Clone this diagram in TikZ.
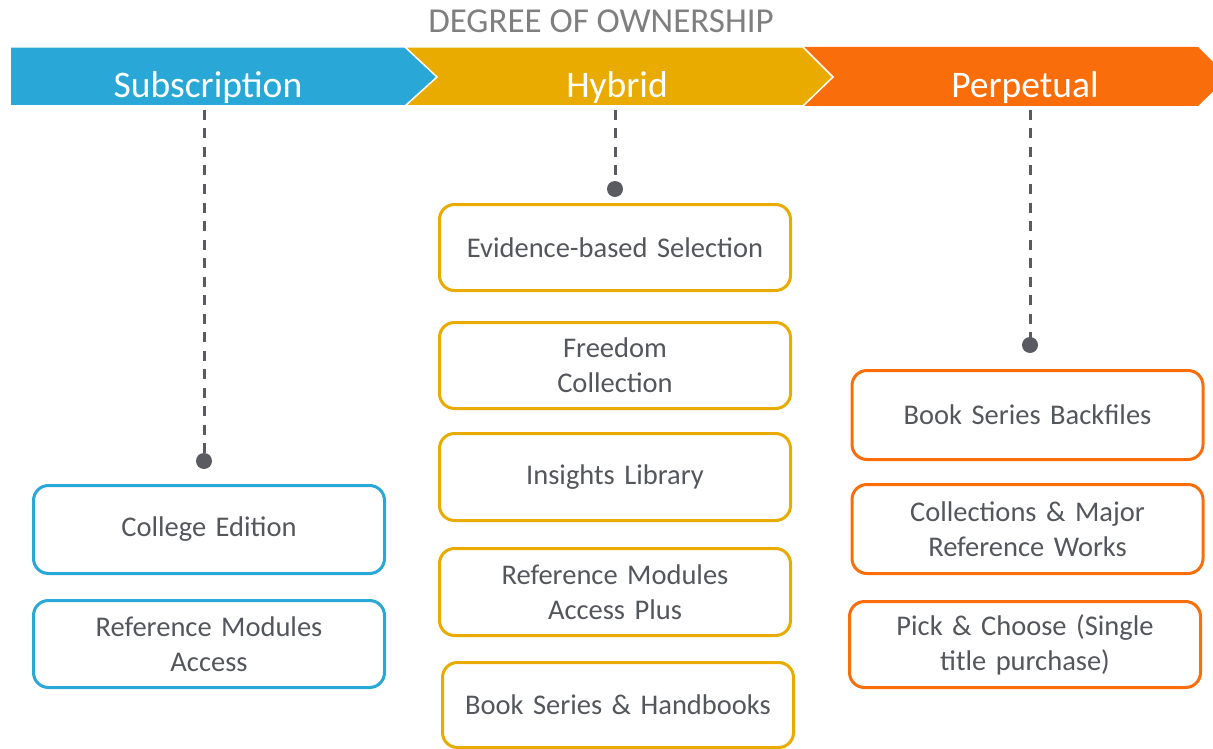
\documentclass[tikz,border=0pt]{standalone}
\usepackage{fontspec}
\setmainfont{Carlito}
\definecolor{cblue}{HTML}{29A8D8}
\definecolor{cyellow}{HTML}{E9AB00}
\definecolor{corange}{HTML}{F96E0A}
\definecolor{ctext}{HTML}{53565B}
\definecolor{ctitle}{HTML}{7F7F7F}
\definecolor{cdash}{HTML}{5A5B60}
\begin{document}
\begin{tikzpicture}[x=1pt,y=-1pt,
  chev/.style={draw=white,line width=1.5pt},
  bannertext/.style={text=white,font=\fontsize{37.5}{42}\selectfont,anchor=base,inner sep=0},
  item/.style={draw=#1,line width=3pt,rounded corners=15pt,minimum width=351pt,
    text width=340pt,align=center,text=ctext,font=\fontsize{28.5}{35}\selectfont,inner sep=0},
  dot/.style={circle,fill=cdash,minimum size=16pt,inner sep=0},
  conn/.style={draw=cdash,line width=3pt,dash pattern=on 10pt off 8.5pt}]
\useasboundingbox (0,0) rectangle (1213,749);
\clip (0,0) rectangle (1213,749);
% banner
\fill[corange] (803,47) -- (1198,47) -- (1228,77) -- (1198,106) -- (803,106) -- (833,77) -- cycle;
\fill[cyellow,chev] (405,47) -- (803,47) -- (833,77) -- (803,106) -- (405,106) -- (435,77) -- cycle;
\fill[cblue,chev] (10,47) -- (405,47) -- (437,77) -- (405,106) -- (10,106) -- cycle;
\node[text=ctitle,font=\fontsize{35}{40}\selectfont,anchor=base,inner sep=0] (title) at (601,33) {DEGREE OF OWNERSHIP};
\node[bannertext] (sub) at (208,98) {Subscription};
\node[bannertext] (hyb) at (617,98) {Hybrid};
\node[bannertext] (per) at (1025,98) {Perpetual};
% connectors
\coordinate (t1) at (204,110);
\coordinate (t2) at (615,110);
\coordinate (t3) at (1030,110);
\node[dot] (d1) at (204,461) {};
\node[dot] (d2) at (615,189) {};
\node[dot] (d3) at (1030,345) {};
\draw[conn] (t1) -- (d1.center);
\draw[conn] (t2) -- (d2.center);
\draw[conn] (t3) -- (d3.center);
% subscription boxes
\node[item=cblue,minimum height=88pt] (ce) at (209,529.5) {College Edition};
\node[item=cblue,minimum height=87pt] (rma) at (209,644) {Reference Modules\\Access};
% hybrid boxes
\node[item=cyellow,minimum height=86pt] (ebs) at (615,247.5) {Evidence-based Selection};
\node[item=cyellow,minimum height=86pt] (fc) at (615,365.5) {Freedom\\Collection};
\node[item=cyellow,minimum height=87pt] (il) at (615,477) {Insights Library};
\node[item=cyellow,minimum height=87pt] (rmap) at (615,592) {Reference Modules\\Access Plus};
\node[item=cyellow,minimum height=85pt] (bsh) at (618,705) {Book Series \& Handbooks};
% perpetual boxes
\node[item=corange,minimum height=89pt] (bsb) at (1027.5,415) {Book Series Backfiles};
\node[item=corange,minimum height=89pt] (cmrw) at (1027.5,529) {Collections \& Major\\Reference Works};
\node[item=corange,minimum height=86pt] (pc) at (1025,644.5) {Pick \& Choose (Single\\title purchase)};
\end{tikzpicture}
\end{document}
